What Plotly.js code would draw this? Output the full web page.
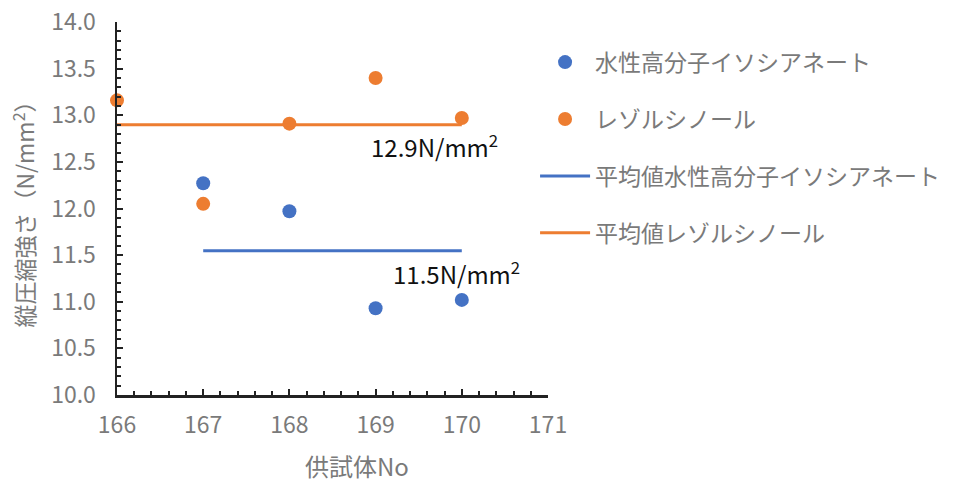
<!DOCTYPE html>
<html>
<head>
<meta charset="utf-8">
<script src="https://cdn.plot.ly/plotly-3.0.1.min.js"></script>
<style>html,body{margin:0;padding:0;background:#fff;}#chart{width:958px;height:485px;}</style>
</head>
<body>
<div id="chart"></div>
<script>
// ---- data ----
const seriesNames = ['水性高分子イソシアネート', 'レゾルシノール'];
const meanNames = ['平均値水性高分子イソシアネート', '平均値レゾルシノール'];
const xBlue = [167, 168, 169, 170];
const yBlue = [12.27, 11.97, 10.93, 11.02];
const xOrange = [166, 167, 168, 169, 170];
const yOrange = [13.16, 12.05, 12.91, 13.40, 12.97];
const unitLabel = 'N/mm<sup>2</sup>';
const xTitle = '供試体No';
const yTitle = '縦圧縮強さ（N/mm<sup>2</sup>）';

const blue = '#4472C4', orange = '#ED7D31';
const FONT = "'Noto Sans CJK JP', sans-serif";
const GRAY = '#7a7a7a';

function mean(a){ return a.reduce((s,v)=>s+v,0)/a.length; }
const mBlue = mean(yBlue), mOrange = mean(yOrange);
const xRangeBlue = [Math.min(...xBlue), Math.max(...xBlue)];
const xRangeOrange = [Math.min(...xOrange), Math.max(...xOrange)];

const traces = [
  {x: xBlue, y: yBlue, name: seriesNames[0], mode: 'markers', type: 'scatter', cliponaxis: false,
   marker: {color: blue, size: 14}, legendgroup: 'a'},
  {x: xOrange, y: yOrange, name: seriesNames[1], mode: 'markers', type: 'scatter', cliponaxis: false,
   marker: {color: orange, size: 14}, legendgroup: 'b'},
  {x: xRangeBlue, y: [mBlue, mBlue], name: meanNames[0], mode: 'lines', type: 'scatter',
   line: {color: blue, width: 3}, legendgroup: 'c'},
  {x: xRangeOrange, y: [mOrange, mOrange], name: meanNames[1], mode: 'lines', type: 'scatter',
   line: {color: orange, width: 3}, legendgroup: 'd'}
];

const pw = 958 - 117 - 410, ph = 485 - 22 - 90;

const layout = {
  width: 958, height: 485,
  margin: {l: 117, r: 410, t: 22, b: 90},
  paper_bgcolor: '#fff', plot_bgcolor: '#fff',
  font: {family: FONT, color: GRAY},
  showlegend: true,
  legend: {x: 0.97, xanchor: 'left', y: 0.95, yanchor: 'top',
           font: {family: FONT, size: 23, color: GRAY},
           itemwidth: 50, tracegroupgap: 24, traceorder: 'grouped',
           bgcolor: 'rgba(0,0,0,0)'},
  xaxis: {range: [166, 171], dtick: 1, tick0: 166, showgrid: false, zeroline: false,
          showline: true, linecolor: '#222', linewidth: 2.5,
          ticks: 'inside', ticklen: 6, tickwidth: 2, tickcolor: '#222',
          minor: {dtick: 0.2, ticks: 'inside', ticklen: 4, tickwidth: 2, tickcolor: '#222'},
          tickfont: {family: FONT, size: 23, color: GRAY},
          ticklabelstandoff: 8},
  yaxis: {range: [10, 14], dtick: 0.5, tick0: 10, tickformat: '.1f', showgrid: false, zeroline: false,
          showline: true, linecolor: '#222', linewidth: 2.5,
          ticks: 'inside', ticklen: 6, tickwidth: 2, tickcolor: '#222',
          minor: {dtick: 0.1, ticks: 'inside', ticklen: 4, tickwidth: 2, tickcolor: '#222'},
          tickfont: {family: FONT, size: 23, color: GRAY},
          ticklabelstandoff: 14,
          title: {text: yTitle, font: {family: FONT, size: 23, color: GRAY}, standoff: 10}},
  annotations: [
    {x: 169.68, y: 12.67, xref: 'x', yref: 'y', showarrow: false,
     text: mOrange.toFixed(1) + unitLabel, font: {family: FONT, size: 24, color: '#111'}},
    {x: 169.94, y: 11.31, xref: 'x', yref: 'y', showarrow: false,
     text: mBlue.toFixed(1) + unitLabel, font: {family: FONT, size: 24, color: '#111'}},
    {x: (357 - 117) / pw, y: (395 - 466) / ph, xref: 'paper', yref: 'paper', showarrow: false,
     xanchor: 'center', yanchor: 'middle',
     text: xTitle, font: {family: FONT, size: 24, color: GRAY}}
  ]
};

Plotly.newPlot('chart', traces, layout, {displayModeBar: false, staticPlot: true});
</script>
</body>
</html>
